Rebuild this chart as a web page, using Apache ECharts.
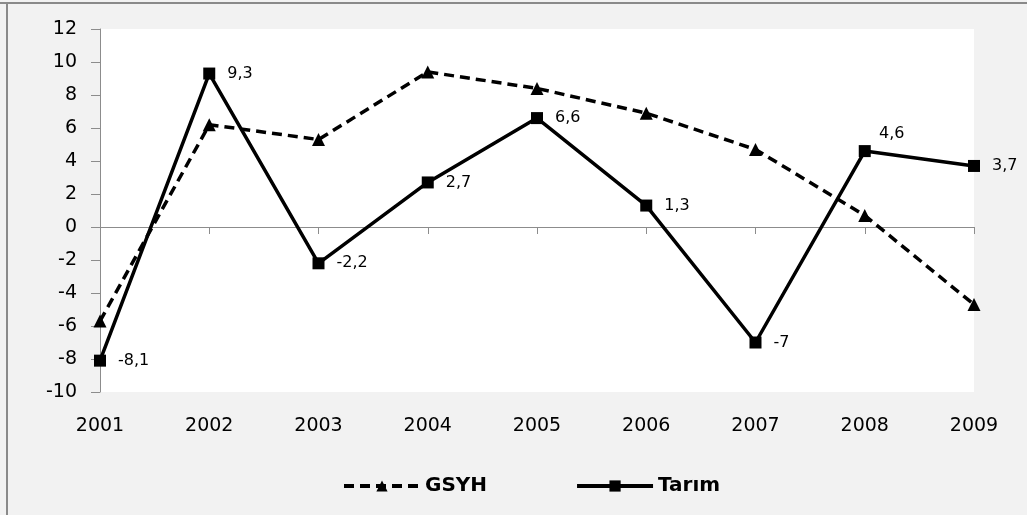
<!DOCTYPE html>
<html>
<head>
<meta charset="utf-8">
<script src="https://cdn.jsdelivr.net/npm/echarts@6/dist/echarts.min.js"></script>
<style>
  html, body { margin: 0; padding: 0; background: #f2f2f2; }
  #chart { width: 1027px; height: 515px; }
</style>
</head>
<body>
<div id="chart"></div>
<script>
// veriler
var years = ['2001', '2002', '2003', '2004', '2005', '2006', '2007', '2008', '2009'];
var gsyh = [-5.7, 6.2, 5.3, 9.4, 8.4, 6.9, 4.7, 0.7, -4.7];
var tarim = [-8.1, 9.3, -2.2, 2.7, 6.6, 1.3, -7, 4.6, 3.7];
var yTicks = { min: -10, max: 12, interval: 2 };

var fontName = 'DejaVu Sans';

// 2008 etiketi noktanin ustunde duruyor
var tarimData = tarim.map(function (v, i) {
    var d = { value: v };
    if (i === 7) {
        d.label = { position: 'top', distance: 3, offset: [27, 0] };
    }
    return d;
});

var myChart = echarts.init(document.getElementById('chart'));
var option = {
    backgroundColor: '#f2f2f2',
    animation: false,
    graphic: [
        { type: 'rect', shape: { x: 0, y: 2, width: 1027, height: 2 }, style: { fill: '#8a8a8a' } },
        { type: 'rect', shape: { x: 6, y: 2, width: 2, height: 513 }, style: { fill: '#8a8a8a' } }
    ],
    grid: {
        left: 100,
        right: 53,
        top: 29,
        bottom: 123,
        show: true,
        backgroundColor: '#ffffff',
        borderWidth: 0
    },
    legend: {
        left: 337,
        top: 471,
        itemWidth: 76,
        itemHeight: 14,
        itemGap: 88,
        lineStyle: { width: 4 },
        textStyle: { fontFamily: fontName, fontWeight: 'bold', fontSize: 20, color: '#000' },
        data: ['GSYH', 'Tarım']
    },
    xAxis: [
        {
            type: 'category',
            data: years,
            boundaryGap: false,
            axisLine: { onZero: true, lineStyle: { color: '#8c8c8c', width: 1 } },
            axisTick: { show: true, length: 7, lineStyle: { color: '#8c8c8c' } },
            axisLabel: { show: false },
            splitLine: { show: false }
        },
        {
            type: 'category',
            data: years,
            boundaryGap: false,
            position: 'bottom',
            axisLine: { show: false },
            axisTick: { show: false },
            axisLabel: { margin: 25, fontFamily: fontName, fontSize: 19, color: '#000' },
            splitLine: { show: false }
        }
    ],
    yAxis: {
        type: 'value',
        min: yTicks.min,
        max: yTicks.max,
        interval: yTicks.interval,
        axisLine: { show: true, lineStyle: { color: '#8c8c8c', width: 1 } },
        axisTick: { show: true, length: 9, lineStyle: { color: '#8c8c8c' } },
        axisLabel: { margin: 23, fontFamily: fontName, fontSize: 19, color: '#000' },
        splitLine: { show: false }
    },
    series: [
        {
            name: 'GSYH',
            type: 'line',
            xAxisIndex: 0,
            data: gsyh,
            symbol: 'triangle',
            symbolSize: 13,
            itemStyle: { color: '#000' },
            lineStyle: { color: '#000', width: 3.5, type: [10, 6] },
            z: 2
        },
        {
            name: 'Tarım',
            type: 'line',
            xAxisIndex: 0,
            data: tarimData,
            symbol: 'rect',
            symbolSize: 12,
            itemStyle: { color: '#000' },
            lineStyle: { color: '#000', width: 3.5 },
            label: {
                show: true,
                position: 'right',
                distance: 12,
                fontFamily: fontName,
                fontSize: 16,
                color: '#000',
                formatter: function (p) {
                    return String(p.value).replace('.', ',');
                }
            },
            z: 3
        }
    ]
};
myChart.setOption(option);
</script>
</body>
</html>
